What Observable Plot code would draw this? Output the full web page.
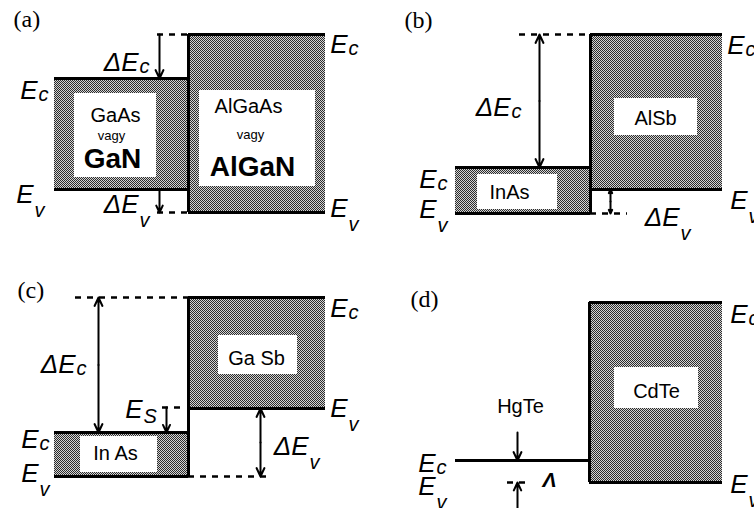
<!DOCTYPE html>
<html><head><meta charset="utf-8">
<script src="https://cdn.jsdelivr.net/npm/d3@7"></script>
<script src="https://cdn.jsdelivr.net/npm/@observablehq/plot@0.6"></script>
<style>body{margin:0;background:#fff;} svg{display:block;}</style>
</head><body><div id="chart"></div>
<script>
// Panel tags
const panelNames = ["(a)","(b)","(c)","(d)"];
const panelX = [13,404,17,410];
const panelY = [26,27,297,306];

// Semiconductor layers (band edges Ec top / Ev bottom, diagram units)
const layerNames = ["GaAs/GaN","AlGaAs/AlGaN","InAs","AlSb","InAs","GaSb","CdTe"];
const layerLeft  = [54,188,455,590,54,188,589];
const layerRight = [188,325,590,722,188,325,722];
const layerEc    = [78,34,167,34,432,297,302];
const layerEv    = [189,212,213,189,476,408,482];
const insetLeft   = [74,199,477,614,80,218,614];
const insetRight  = [156,315,557,697,157,297,698];
const insetTop    = [93,90,174,98,436,335,367];
const insetBottom = [177,186,209,135,472,374,408];

// Zero-gap HgTe band line
const semiLeft = [455], semiRight = [589], semiE = [460];

// Heterojunction interfaces
const ifaceX = [188,590,188,589];
const ifaceTop = [34,34,297,302];
const ifaceBottom = [212,213,476,482];

// Dashed reference levels
const dashLeft  = [157,157,519,590,75,188,162,507];
const dashRight = [188,188,590,627,188,270,180,530];
const dashE     = [34,212,34,213,297,476,407,482];

// Offset arrows
const arrowX    = [159,159,539,610,98,260,166,517,517];
const arrowFrom = [34,189,34,189,297,408,407,432,508];
const arrowTo   = [78,212,167,213,432,476,432,460,482];
const arrowHeads = ["end","end","both","both","both","both","end","end","end"];

// Energy labels: base + subscript
const eBase = ["E","E","E","E","ΔE","ΔE", "E","ΔE","E","E","E","ΔE", "E","E","ΔE","E","E","E","ΔE", "E","E","E","E"];
const eSub  = ["c","v","c","v","c","v", "c","c","c","v","v","v", "c","v","c","S","c","v","v", "c","v","c","v"];
const eX = [37,33,347,347,138,138, 744,510,436,436,747,679, 347,347,75,142,38,38,308, 747,747,435,435];
const eY = [98,202,52,216,70,212, 53,115,187,217,208,225, 316,416,372,417,447,481,454, 322,492,471,494];

// Material labels
const matText = ["GaAs","vagy","GaN","AlGaAs","vagy","AlGaN","InAs","AlSb","In As","Ga Sb","CdTe","HgTe"];
const matX = [115,111,112,248,250,252,509,655,115,256,656,520];
const matY = [121,139,167,112,138,175,198,124,459,364,397,412];
const matSize = [20,13,28,20,13,28,20,20,20,20,20,20];
const matBold = [false,false,true,false,false,true,false,false,false,false,false,false];

// Extra small mark in (d)
const lambdaText = ["Λ"], lambdaX = [549], lambdaY = [486];

const layers = layerNames.map((n,i)=>({n, l:layerLeft[i], r:layerRight[i], ec:layerEc[i], ev:layerEv[i],
  il:insetLeft[i], ir:insetRight[i], it:insetTop[i], ib:insetBottom[i]}));
const edges = [
  ...layers.map(d=>({l:d.l,r:d.r,e:d.ec})),
  ...layers.map(d=>({l:d.l,r:d.r,e:d.ev})),
  ...semiE.map((e,i)=>({l:semiLeft[i],r:semiRight[i],e}))
];
const ifaces = ifaceX.map((x,i)=>({x,t:ifaceTop[i],b:ifaceBottom[i]}));
const dashes = dashE.map((e,i)=>({l:dashLeft[i],r:dashRight[i],e}));
const segs = [];
arrowX.forEach((x,i)=>{
  const a=arrowFrom[i], b=arrowTo[i];
  if (arrowHeads[i]==="both"){ const m=(a+b)/2; segs.push({x,y1:m,y2:a},{x,y1:m,y2:b}); }
  else segs.push({x,y1:a,y2:b});
});
const subOff = {c:2, v:14, S:5};
const elabels = eBase.map((b,i)=>({b, s:eSub[i], x:eX[i], y:eY[i], sy:eY[i]+subOff[eSub[i]]}));
const mats = matText.map((t,i)=>({t,x:matX[i],y:matY[i],size:matSize[i],bold:matBold[i]}));
const panels = panelNames.map((t,i)=>({t,x:panelX[i],y:panelY[i]}));

const sans = "Liberation Sans, Arial, sans-serif";
const marks = [
  Plot.rect(layers,{x1:"l",x2:"r",y1:"ec",y2:"ev",fill:"url(#dither)"}),
  Plot.rect(layers,{x1:"il",x2:"ir",y1:"it",y2:"ib",fill:"white"}),
  Plot.ruleY(edges,{y:"e",x1:"l",x2:"r",stroke:"black",strokeWidth:3}),
  Plot.ruleX(ifaces,{x:"x",y1:"t",y2:"b",stroke:"black",strokeWidth:3}),
  Plot.ruleY(dashes,{y:"e",x1:"l",x2:"r",stroke:"black",strokeWidth:2.5,strokeDasharray:"6,6"}),
  Plot.arrow(segs,{x1:"x",x2:"x",y1:"y1",y2:"y2",stroke:"black",strokeWidth:2,headLength:7,headAngle:50}),
  Plot.text(elabels,{x:"x",y:"y",text:"b",textAnchor:"end",lineAnchor:"bottom",fontSize:26,fontStyle:"italic",fontFamily:sans,fill:"black"}),
  Plot.text(elabels,{x:d=>d.x+1,y:"sy",text:"s",textAnchor:"start",lineAnchor:"bottom",fontSize:20,fontStyle:"italic",fontFamily:sans,fill:"black"}),
  Plot.text(mats.filter(d=>!d.bold),{x:"x",y:"y",text:"t",fontSize:d=>d.size,lineAnchor:"bottom",fontFamily:sans,fill:"black",ariaLabel:"material"}),
  Plot.text(mats.filter(d=>d.bold),{x:"x",y:"y",text:"t",fontSize:28,fontWeight:"bold",lineAnchor:"bottom",fontFamily:sans,fill:"black",ariaLabel:"material"}),
  Plot.text(lambdaText.map((t,i)=>({t,x:lambdaX[i],y:lambdaY[i]})),{x:"x",y:"y",text:"t",lineAnchor:"bottom",fontSize:21,fontWeight:"bold",fontStyle:"italic",fontFamily:sans,fill:"black"}),
  Plot.text(panels,{x:"x",y:"y",text:"t",textAnchor:"start",lineAnchor:"bottom",fontSize:24,fontFamily:"Liberation Serif, Times New Roman, serif",fill:"black",ariaLabel:"panel"})
];

const svg = Plot.plot({
  width:754, height:508, margin:0,
  x:{domain:[0,754],range:[0,754],axis:null},
  y:{domain:[0,508],range:[0,508],axis:null},
  style:{background:"white",overflow:"hidden"},
  marks
});
const ns="http://www.w3.org/2000/svg";
const defs=document.createElementNS(ns,"defs");
const pat=document.createElementNS(ns,"pattern");
pat.setAttribute("id","dither");pat.setAttribute("width","2");pat.setAttribute("height","2");
pat.setAttribute("patternUnits","userSpaceOnUse");
[[0,0,2,2,"#d4d4d4"],[0,0,1,1,"#2c2c2c"],[1,1,1,1,"#2c2c2c"]].forEach(([x,y,w,h,f])=>{
  const r=document.createElementNS(ns,"rect");
  r.setAttribute("x",x);r.setAttribute("y",y);r.setAttribute("width",w);r.setAttribute("height",h);r.setAttribute("fill",f);
  pat.appendChild(r);
});
defs.appendChild(pat);
svg.insertBefore(defs,svg.firstChild);
d3.select(svg).selectAll('g[aria-label="material"] text').style("letter-spacing","2px");
d3.select(svg).selectAll('g[aria-label="panel"] text').style("letter-spacing","2px");
document.getElementById("chart").appendChild(svg);
</script>
</body></html>
